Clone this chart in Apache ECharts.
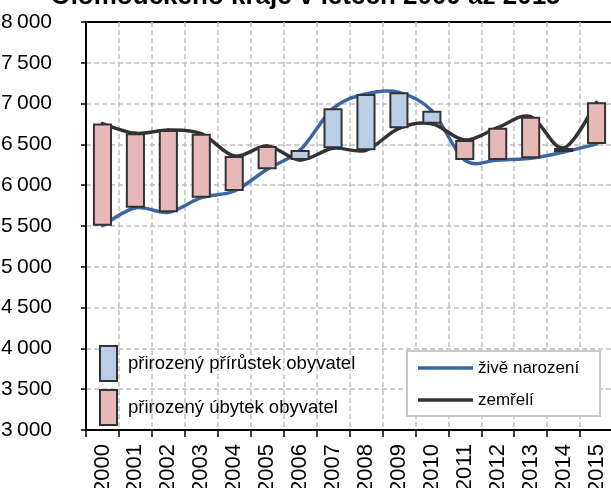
<!DOCTYPE html>
<html>
<head>
<meta charset="utf-8">
<script src="https://cdn.jsdelivr.net/npm/echarts@6/dist/echarts.min.js"></script>
<style>
html,body{margin:0;padding:0;background:#fff;}
#c{width:611px;height:488px;}
</style>
</head>
<body>
<div id="c"></div>
<script>
const years = ['2000','2001','2002','2003','2004','2005','2006','2007','2008','2009','2010','2011','2012','2013','2014','2015'];
const births = [5504, 5724, 5668, 5847, 5929, 6195, 6431, 6942, 7118, 7138, 6913, 6309, 6309, 6330, 6407, 6505];
const deaths = [6755, 6636, 6676, 6631, 6358, 6480, 6309, 6452, 6428, 6697, 6754, 6554, 6705, 6840, 6456, 7016];
const yTicks = [3000, 3500, 4000, 4500, 5000, 5500, 6000, 6500, 7000, 7500, 8000];

const base = births.map((b, i) => Math.min(b, deaths[i]));
const increase = births.map((b, i) => b > deaths[i] ? b - deaths[i] : '-');
const decrease = births.map((b, i) => deaths[i] > b ? deaths[i] - b : '-');

const NARROW = "'Liberation Sans Narrow', 'Liberation Sans', Arial, sans-serif";
const REG = "'Liberation Sans', Arial, sans-serif";

// Smoothed (Catmull-Rom style) line drawn segment by segment through the chart's own scales
function smoothLine(values, color) {
  return function (params, api) {
    const i = params.dataIndex;
    const n = values.length;
    if (i >= n - 1) return null;
    const pt = k => { const j = Math.max(0, Math.min(n - 1, k)); return api.coord([j, values[j]]); };
    const p0 = pt(i - 1), p1 = pt(i), p2 = pt(i + 1), p3 = pt(i + 2);
    return {
      type: 'bezierCurve',
      shape: {
        x1: p1[0], y1: p1[1], x2: p2[0], y2: p2[1],
        cpx1: p1[0] + (p2[0] - p0[0]) / 6, cpy1: p1[1] + (p2[1] - p0[1]) / 6,
        cpx2: p2[0] - (p3[0] - p1[0]) / 6, cpy2: p2[1] - (p3[1] - p1[1]) / 6
      },
      style: { stroke: color, lineWidth: 3.5, fill: null, lineCap: 'round' }
    };
  };
}

const chart = echarts.init(document.getElementById('c'));
chart.setOption({
  animation: false,
  title: {
    text: 'Olomouckého kraje v letech 2000 až 2015',
    left: 'center', top: -21,
    textStyle: { fontFamily: REG, fontWeight: 'bold', fontSize: 26, color: '#000' }
  },
  grid: {
    left: 86, top: 22, width: 527, height: 408, outerBoundsMode: 'none', containLabel: false,
    show: true, borderColor: '#000', borderWidth: 2, backgroundColor: 'transparent'
  },
  legend: [
    {
      data: [{ name: 'přirozený přírůstek obyvatel', icon: 'rect' }, { name: 'přirozený úbytek obyvatel', icon: 'rect' }],
      orient: 'vertical', left: 94, top: 340, padding: 5,
      itemWidth: 17, itemHeight: 35, itemGap: 7,
      textStyle: { fontFamily: REG, fontSize: 18.5, color: '#000', padding: [0, 0, 0, 6] }
    },
    {
      data: [{ name: 'živě narození', icon: 'rect' }, { name: 'zemřelí', icon: 'rect' }],
      orient: 'vertical', left: 407, top: 351,
      padding: [7, 21, 6, 11],
      itemWidth: 55, itemHeight: 3.5, itemGap: 12,
      backgroundColor: '#fff', borderColor: '#c8c8c8', borderWidth: 2,
      textStyle: { fontFamily: REG, fontSize: 17, color: '#000', lineHeight: 20 }
    }
  ],
  xAxis: {
    type: 'category', data: years, boundaryGap: true,
    axisLine: { lineStyle: { color: '#000', width: 2 } },
    axisTick: { show: true, length: 7, lineStyle: { color: '#000', width: 1.5 } },
    splitLine: { show: true, showMinLine: false, showMaxLine: false, lineStyle: { color: '#c0c0c0', width: 1.5, type: [5, 3] } },
    axisLabel: { rotate: 90, interval: 0, margin: 14, fontSize: 22, color: '#000', fontFamily: REG }
  },
  yAxis: {
    type: 'value', min: yTicks[0], max: yTicks[yTicks.length - 1], interval: 500,
    axisLine: { show: true, lineStyle: { color: '#000', width: 2 } },
    axisTick: { show: true, length: 5, lineStyle: { color: '#000', width: 1.5 } },
    splitLine: { show: true, showMinLine: false, showMaxLine: false, lineStyle: { color: '#c0c0c0', width: 1.5, type: [5, 3] } },
    axisLabel: {
      margin: 34, fontSize: 21, color: '#000', fontFamily: NARROW,
      formatter: v => String(v).replace(/\B(?=(\d{3})+(?!\d))/g, '\u2009')
    }
  },
  series: [
    {
      name: 'živě narození', type: 'custom', z: 1, silent: true,
      data: births.map((v, i) => [i, v]),
      encode: { x: 0, y: 1 },
      itemStyle: { color: '#3B66A0' },
      renderItem: smoothLine(births, '#3B66A0')
    },
    {
      name: 'zemřelí', type: 'custom', z: 1, silent: true,
      data: deaths.map((v, i) => [i, v]),
      encode: { x: 0, y: 1 },
      itemStyle: { color: '#333333' },
      renderItem: smoothLine(deaths, '#333333')
    },
    {
      name: 'base', type: 'bar', stack: 'b', data: base, barWidth: '58%', silent: true, z: 2,
      itemStyle: { color: 'transparent', borderWidth: 0 }
    },
    {
      name: 'přirozený přírůstek obyvatel', type: 'bar', stack: 'b', data: increase, z: 2,
      itemStyle: { color: '#B9CDE5', borderColor: '#333333', borderWidth: 2 }
    },
    {
      name: 'přirozený úbytek obyvatel', type: 'bar', stack: 'b', data: decrease, z: 2,
      itemStyle: { color: '#E6B9B8', borderColor: '#333333', borderWidth: 2 }
    }
  ]
});
</script>
</body>
</html>
